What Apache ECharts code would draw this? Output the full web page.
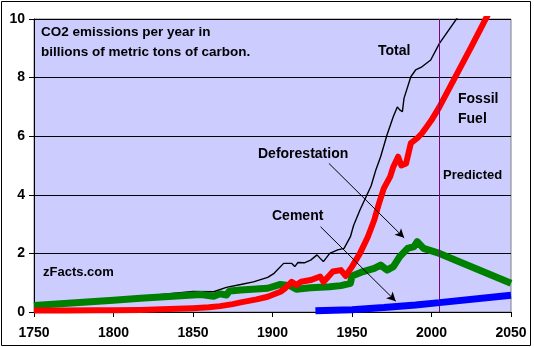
<!DOCTYPE html>
<html>
<head>
<meta charset="utf-8">
<script src="https://cdn.jsdelivr.net/npm/echarts@6/dist/echarts.min.js"></script>
<style>
  html, body { margin: 0; padding: 0; background: #ffffff; }
  #chart { width: 534px; height: 347px; }
</style>
</head>
<body>
<div id="chart"></div>
<script>
// Annual CO2 emissions, billions of metric tons of carbon, as [year, value]
const totalData = [
  [1750, 0.25], [1800, 0.44], [1850, 0.7], [1863, 0.69], [1871, 0.84], [1880, 0.94],
  [1888, 1.03], [1897, 1.18], [1901, 1.32], [1907, 1.66], [1912, 1.66], [1914, 1.55],
  [1916, 1.69], [1920, 1.68], [1924, 1.77], [1928, 1.95], [1930, 1.83], [1932, 1.72],
  [1936, 2.0], [1941, 2.12], [1945, 2.17], [1946, 2.12], [1949, 2.57], [1951, 2.95],
  [1955, 3.48], [1959, 3.95], [1962, 4.3], [1965, 4.85], [1968, 5.3], [1972, 6.04],
  [1976, 6.67], [1978.5, 7.0], [1980, 6.9], [1981.7, 6.84], [1982.7, 7.29], [1987, 8.03],
  [1990, 8.26], [1991, 8.2], [1994, 8.37], [1999.5, 8.6], [2005, 9.17], [2017, 10.1]
];
const fossilData = [
  [1750, 0.05], [1770, 0.05], [1790, 0.06], [1800, 0.06], [1817, 0.07], [1830, 0.09],
  [1840, 0.11], [1850, 0.13], [1860, 0.16], [1867, 0.2], [1875, 0.27], [1880, 0.33],
  [1890, 0.43], [1897, 0.52], [1905, 0.69], [1908, 0.81], [1912, 1.03], [1915, 0.92],
  [1918, 1.03], [1924, 1.09], [1930, 1.21], [1932, 1.03], [1935, 1.2], [1938, 1.38],
  [1943, 1.43], [1946, 1.23], [1950, 1.55], [1955, 2.0], [1960, 2.57], [1964, 3.14],
  [1967, 3.71], [1970, 4.22], [1974, 4.62], [1976, 4.96], [1979, 5.3], [1981, 5.0],
  [1984, 5.07], [1987, 5.76], [1991, 5.93], [1994, 6.1], [1997, 6.32], [2000, 6.55],
  [2005, 7.0], [2025, 9.05], [2035, 10.1], [2040, 10.6]
];
const deforestData = [
  [1750, 0.22], [1800, 0.4], [1817, 0.47], [1850, 0.58], [1855, 0.6], [1863, 0.54],
  [1867, 0.62], [1871, 0.58], [1873, 0.72], [1880, 0.75], [1897, 0.81], [1905, 0.94],
  [1911, 0.9], [1915, 0.78], [1924, 0.83], [1936, 0.86], [1943, 0.9], [1949, 0.98],
  [1950, 1.23], [1957, 1.38], [1964, 1.49], [1968, 1.6], [1972, 1.43], [1976, 1.55],
  [1980, 1.89], [1985, 2.17], [1989, 2.23], [1991, 2.4], [1995, 2.17], [2005, 2.0],
  [2050, 0.98]
];
const cementData = [
  [1927, 0.04], [1950, 0.08], [1970, 0.15], [1990, 0.24], [2005, 0.32], [2050, 0.57]
];
const yearTicks = { min: 1750, max: 2050, step: 50 };
const valueTicks = { min: 0, max: 10, step: 2 };
const predictedFrom = 2005;
// Callout arrows: [label start, arrow tip] in data units
const deforestArrow = [[1935.5, 5.07], [1982.8, 2.53]];
const cementArrow = [[1930.2, 2.91], [1977.5, 0.37]];

const BOLD = '"Liberation Sans", Arial, sans-serif';

const chart = echarts.init(document.getElementById('chart'), null, { renderer: 'canvas' });

function label(text, x, y, size) {
  return {
    type: 'text', left: x, top: y - size / 2 - 1, silent: true, z: 100,
    style: { text: text, font: 'bold ' + size + 'px ' + BOLD, fill: '#000' }
  };
}

chart.setOption({
  animation: false,
  backgroundColor: '#ffffff',
  grid: {
    left: 34, right: 23, top: 19, bottom: 35,
    show: true, backgroundColor: '#CCCCFF', borderColor: '#808080', borderWidth: 1
  },
  xAxis: {
    type: 'value', min: yearTicks.min, max: yearTicks.max, interval: yearTicks.step,
    axisLine: { show: true, onZero: false, lineStyle: { color: '#000', width: 1 } },
    axisTick: { show: true, inside: false, length: 5, lineStyle: { color: '#000' } },
    axisLabel: {
      color: '#000', fontSize: 14, fontWeight: 'bold', fontFamily: BOLD, margin: 14,
      formatter: function (v) { return String(v); }
    },
    splitLine: { show: false }
  },
  yAxis: {
    type: 'value', min: valueTicks.min, max: valueTicks.max, interval: valueTicks.step,
    axisLine: { show: true, lineStyle: { color: '#000', width: 1 } },
    axisTick: { show: true, inside: false, length: 5, lineStyle: { color: '#000' } },
    axisLabel: { color: '#000', fontSize: 14, fontWeight: 'bold', fontFamily: BOLD, margin: 9 },
    splitLine: { show: true, lineStyle: { color: '#000', width: 1 } }
  },
  series: [
    {
      name: 'Total', type: 'line', data: totalData, showSymbol: false, z: 2,
      lineStyle: { color: '#000000', width: 1.4 },
      markLine: {
        silent: true, symbol: ['none', 'arrow'], symbolSize: [7, 9],
        label: { show: false },
        lineStyle: { color: '#000', width: 1, type: 'solid' },
        data: [
          [{ coord: deforestArrow[0] }, { coord: deforestArrow[1] }],
          [{ coord: cementArrow[0] }, { coord: cementArrow[1] }]
        ]
      }
    },
    {
      name: 'Deforestation', type: 'line', data: deforestData, showSymbol: false, z: 3,
      lineStyle: { color: '#008000', width: 7, cap: 'butt', join: 'round' },
      markLine: {
        silent: true, symbol: ['none', 'none'], label: { show: false },
        lineStyle: { color: '#800080', width: 1, type: 'solid' },
        data: [{ xAxis: predictedFrom }]
      }
    },
    {
      name: 'Fossil Fuel', type: 'line', data: fossilData, showSymbol: false, z: 4,
      lineStyle: { color: '#FF0000', width: 6, cap: 'butt', join: 'round' }
    },
    {
      name: 'Cement', type: 'line', data: cementData, showSymbol: false, z: 5,
      lineStyle: { color: '#0000FF', width: 7, cap: 'butt' }
    }
  ],
  graphic: [
    {
      type: 'rect', silent: true, z: 100,
      shape: { x: 1.5, y: 1.5, width: 529, height: 344 },
      style: { fill: 'none', stroke: '#000', lineWidth: 1 }
    },
    label('CO2 emissions per year in', 41, 33, 13.5),
    label('billions of metric tons of carbon.', 41, 53, 13.5),
    label('Total', 378, 52, 14),
    label('Fossil', 458, 100, 14),
    label('Fuel', 458, 120, 14),
    label('Predicted', 443, 176, 13),
    label('Deforestation', 258, 155, 14),
    label('Cement', 272, 217, 14),
    label('zFacts.com', 43, 273, 13)
  ]
});
</script>
</body>
</html>
